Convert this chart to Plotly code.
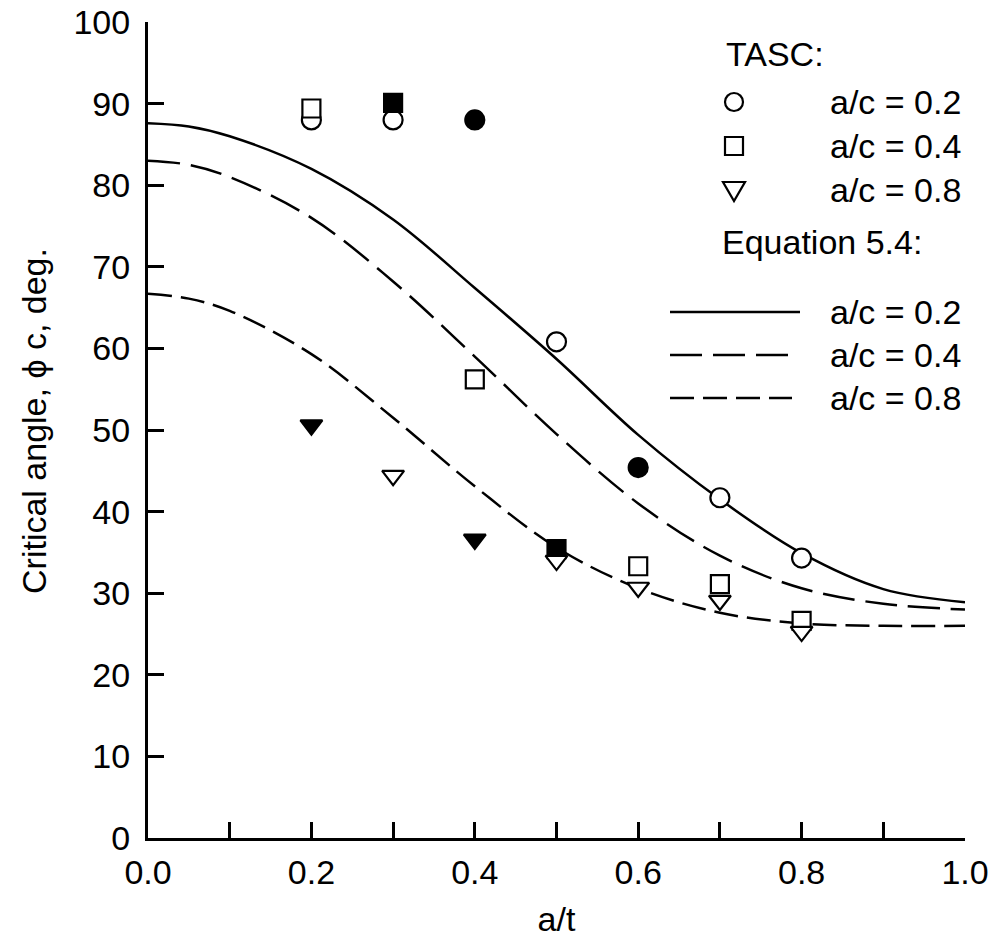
import plotly.graph_objects as go

# ---------------- data ----------------
# Equation 5.4 curves
eq_x = [0.0, 0.05, 0.1, 0.2, 0.3, 0.4, 0.5, 0.6, 0.7, 0.8, 0.9, 1.0]
eq_ac02 = [87.6, 87.2, 86.0, 82.0, 75.8, 67.4, 58.7, 49.4, 41.5, 34.9, 30.5, 28.9]
eq_ac04 = [83.0, 82.5, 81.0, 76.0, 68.2, 59.0, 49.5, 41.0, 34.6, 30.6, 28.7, 28.0]
eq_ac08 = [66.7, 66.1, 64.6, 59.3, 51.5, 43.1, 35.6, 30.6, 27.6, 26.3, 26.0, 26.0]

# TASC results
circ_open_x = [0.2, 0.3, 0.5, 0.7, 0.8]
circ_open_y = [88.0, 88.0, 60.8, 41.7, 34.3]
circ_fill_x = [0.4, 0.6]
circ_fill_y = [88.0, 45.4]

sq_open_x = [0.2, 0.4, 0.6, 0.7, 0.8]
sq_open_y = [89.4, 56.2, 33.3, 31.1, 26.6]
sq_fill_x = [0.3, 0.5]
sq_fill_y = [90.1, 35.4]

tri_open_x = [0.3, 0.5, 0.6, 0.7, 0.8]
tri_open_y = [44.4, 34.0, 30.7, 29.1, 25.3]
tri_fill_x = [0.2, 0.4]
tri_fill_y = [50.6, 36.6]

x_ticks = [0.0, 0.2, 0.4, 0.6, 0.8, 1.0]
x_ticklabels = ["0.0", "0.2", "0.4", "0.6", "0.8", "1.0"]
y_ticks = [0, 10, 20, 30, 40, 50, 60, 70, 80, 90, 100]

legend_tasc = ["a/c = 0.2", "a/c = 0.4", "a/c = 0.8"]
legend_eq = ["a/c = 0.2", "a/c = 0.4", "a/c = 0.8"]

FONT = "Arial, Liberation Sans, sans-serif"
FS = 34

DASH_LONG = "32px,11px"
DASH_SHORT = "24px,9px"
LW = 2.5

fig = go.Figure()

# curves
for ys, dash in [(eq_ac02, "solid"), (eq_ac04, DASH_LONG), (eq_ac08, DASH_SHORT)]:
    fig.add_trace(go.Scatter(x=eq_x, y=ys, mode="lines",
                             line=dict(color="black", width=LW, dash=dash, shape="spline", smoothing=1.0),
                             showlegend=False, hoverinfo="skip"))

def add_markers(xs, ys, symbol, filled, size):
    fig.add_trace(go.Scatter(
        x=xs, y=ys, mode="markers", showlegend=False,
        marker=dict(symbol=symbol, size=size,
                    color="black" if filled else "white",
                    line=dict(color="black", width=2.2)),
        cliponaxis=False))

add_markers(circ_open_x, circ_open_y, "circle", False, 19)
add_markers(circ_fill_x, circ_fill_y, "circle", True, 19)
add_markers(sq_open_x, sq_open_y, "square", False, 18)
add_markers(sq_fill_x, sq_fill_y, "square", True, 18)
add_markers(tri_open_x, tri_open_y, "triangle-down", False, 19)
add_markers(tri_fill_x, tri_fill_y, "triangle-down", True, 19)

# ---------------- legend (manual) ----------------
L, R, T, B = 148, 27, 22, 103
W, H = 992, 941
PW, PH = W - L - R, H - T - B

def px(xp):
    return (xp - L) / PW

def py(yp):
    return (H - B - yp) / PH

annotations = []
shapes = []

def text_at(txt, xpix, ypix):
    annotations.append(dict(text=txt, x=px(xpix), y=py(ypix), xref="paper", yref="paper",
                            xanchor="left", yanchor="middle", showarrow=False,
                            font=dict(family=FONT, size=FS, color="black")))

text_at("TASC:", 724, 54)
row_y = [102, 146, 190]
mx = 734
for i, lab in enumerate(legend_tasc):
    text_at(lab, 828, row_y[i])
# legend symbols
shapes.append(dict(type="circle", xref="paper", yref="paper", xsizemode="pixel", ysizemode="pixel",
                   xanchor=px(mx), yanchor=py(row_y[0]), x0=-9, x1=9, y0=-9, y1=9,
                   line=dict(color="black", width=2.2), fillcolor="white"))
shapes.append(dict(type="rect", xref="paper", yref="paper", xsizemode="pixel", ysizemode="pixel",
                   xanchor=px(mx), yanchor=py(row_y[1]), x0=-9, x1=9, y0=-9, y1=9,
                   line=dict(color="black", width=2.2), fillcolor="white"))
shapes.append(dict(type="path", xref="paper", yref="paper", xsizemode="pixel", ysizemode="pixel",
                   xanchor=px(mx), yanchor=py(row_y[2]), path="M-11,8 L11,8 L0,-11 Z",
                   line=dict(color="black", width=2.2), fillcolor="white"))

text_at("Equation 5.4:", 720, 242)
line_y = [312, 355, 398]
for i, (lab, dash, xend) in enumerate(zip(legend_eq, ["solid", DASH_LONG, DASH_SHORT], [800, 788, 792])):
    shapes.append(dict(type="line", xref="paper", yref="paper",
                       x0=px(670), x1=px(xend), y0=py(line_y[i]), y1=py(line_y[i]),
                       line=dict(color="black", width=LW, dash=dash)))
    text_at(lab, 828, line_y[i])

# y-axis title placed as rotated annotation
annotations.append(dict(text="Critical angle, \u03d5 c, deg.", x=px(34), y=py(421),
                        xref="paper", yref="paper", xanchor="center", yanchor="middle",
                        textangle=-90, showarrow=False,
                        font=dict(family=FONT, size=FS, color="black")))

axis_common = dict(showline=True, linewidth=3, linecolor="black", mirror=False,
                   ticks="inside", ticklen=16, tickwidth=2.5, tickcolor="black",
                   showgrid=False, zeroline=False, automargin=False,
                   tickfont=dict(family=FONT, size=FS, color="black"))

fig.update_layout(
    width=W, height=H,
    margin=dict(l=L, r=R, t=T, b=B, pad=0),
    paper_bgcolor="white", plot_bgcolor="white",
    showlegend=False,
    xaxis=dict(range=[0, 1], tickvals=x_ticks, ticktext=x_ticklabels,
               minor=dict(dtick=0.1, ticks="inside", ticklen=16, tickwidth=2.5, tickcolor="black"),
               title=dict(text="a/t", font=dict(family=FONT, size=FS, color="black"), standoff=18),
               ticklabelstandoff=2,
               **axis_common),
    yaxis=dict(range=[0, 100], tickvals=y_ticks,
               ticklabelstandoff=8,
               **axis_common),
    annotations=annotations,
    shapes=shapes,
)

fig.write_html("out.html")
